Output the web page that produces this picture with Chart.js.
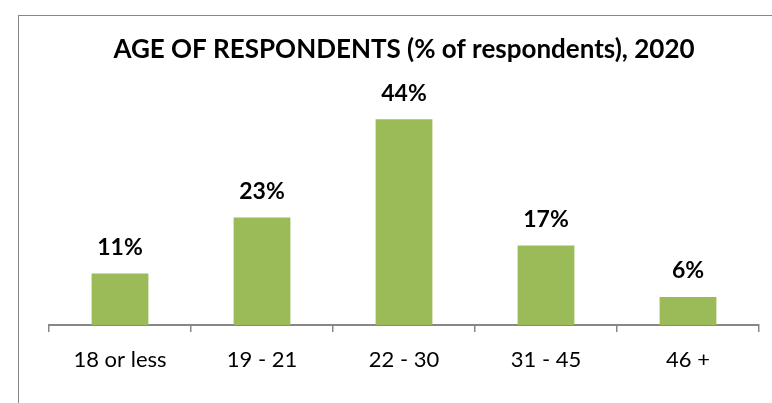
<!DOCTYPE html>
<html>
<head>
<meta charset="utf-8">
<script src="https://cdn.jsdelivr.net/npm/chart.js@4.4.0/dist/chart.umd.min.js"></script>
<style>
  html, body { margin: 0; padding: 0; background: #fff; }
  #wrap { position: relative; width: 772px; height: 403px; }
  #frame {
    position: absolute; left: 18px; top: 15px; width: 780px; height: 400px;
    border-left: 1px solid #878787; border-top: 1px solid #878787;
  }
  canvas { position: absolute; left: 0; top: 0; }
</style>
</head>
<body>
<div id="wrap">
  <div id="frame"></div>
  <canvas id="myChart" width="772" height="403"></canvas>
</div>
<script>
var titleText = 'AGE OF RESPONDENTS (% of respondents), 2020';
var ageGroups = ['18 or less', '19 - 21', '22 - 30', '31 - 45', '46 +'];
var sharePct = [11, 23, 44, 17, 6];

var fontName = 'Lato, "Open Sans", sans-serif';

// draw the % values above each bar
var barLabels = {
    id: 'barLabels',
    afterDatasetsDraw: function (chart) {
        var ctx = chart.ctx;
        var meta = chart.getDatasetMeta(0);
        ctx.save();
        ctx.font = 'bold 23px ' + fontName;
        ctx.fillStyle = '#000';
        ctx.textAlign = 'center';
        ctx.textBaseline = 'middle';
        meta.data.forEach(function (bar, i) {
            ctx.fillText(sharePct[i] + '%', bar.x, bar.y - 26);
        });
        ctx.restore();
    }
};

var ctx = document.getElementById('myChart').getContext('2d');
var myChart = new Chart(ctx, {
    type: 'bar',
    data: {
        labels: ageGroups,
        datasets: [{
            data: sharePct,
            backgroundColor: '#9BBB59',
            borderWidth: 0,
            categoryPercentage: 1,
            barPercentage: 0.4
        }]
    },
    options: {
        responsive: false,
        animation: false,
        layout: { padding: { left: 49, right: 13, top: 0, bottom: 0 } },
        plugins: {
            legend: { display: false },
            tooltip: { enabled: false },
            title: {
                display: true,
                text: titleText,
                color: '#000',
                font: { family: fontName, size: 26, weight: 'bold' },
                padding: { top: 34, bottom: 26 }
            }
        },
        scales: {
            x: {
                grid: { drawOnChartArea: false, color: '#878787', tickLength: 7, lineWidth: 1.5 },
                border: { color: '#878787', width: 2 },
                ticks: { color: '#000', font: { family: fontName, size: 22 }, padding: 15 },
                afterFit: function (scale) { scale.height = 78; }
            },
            y: {
                display: false,
                min: 0,
                max: 50
            }
        }
    },
    plugins: [barLabels]
});
</script>
</body>
</html>
